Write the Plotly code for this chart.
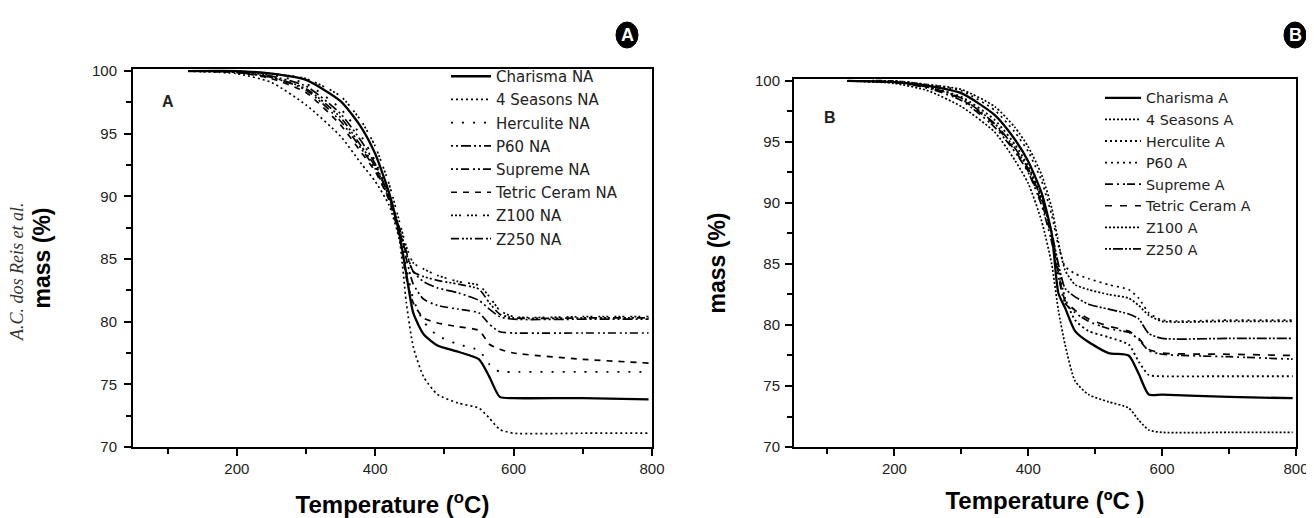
import plotly.graph_objects as go

# ---------------- data ----------------
temp_A = [130, 200, 250, 300, 350, 380, 400, 420, 435, 445, 455, 470, 490, 520, 550, 565, 580, 600, 700, 795]
temp_B = [130, 200, 250, 300, 350, 380, 400, 420, 435, 445, 455, 470, 490, 520, 550, 565, 580, 600, 700, 795]

names_A = ["Charisma NA", "4 Seasons NA", "Herculite NA", "P60 NA", "Supreme NA",
           "Tetric Ceram NA", "Z100 NA", "Z250 NA"]
names_B = ["Charisma A", "4 Seasons A", "Herculite A", "P60 A", "Supreme A",
           "Tetric Ceram A", "Z100 A", "Z250 A"]

charisma_NA = [100, 100, 99.8, 99.3, 97.6, 95.5, 93.4, 90.3, 87.0, 83.8, 80.7, 79.0, 78.1, 77.6, 77.0, 75.6, 74.0, 73.9, 73.9, 73.8]
seasons_NA = [100, 99.8, 99.1, 97.3, 94.8, 92.6, 91.2, 89.3, 86.5, 81.5, 78.0, 75.6, 74.2, 73.5, 73.1, 72.3, 71.4, 71.1, 71.1, 71.1]
herculite_NA = [100, 100, 99.7, 99.0, 97.0, 94.8, 92.8, 90.0, 87.0, 84.3, 81.8, 80.0, 78.9, 78.2, 77.7, 76.6, 76.0, 76.0, 76.0, 76.0]
p60_NA = [100, 100, 99.6, 98.8, 96.6, 94.4, 92.6, 90.0, 87.4, 85.4, 84.0, 83.2, 82.7, 82.3, 81.7, 81.0, 80.4, 80.2, 80.2, 80.2]
supreme_NA = [100, 99.9, 99.5, 98.5, 96.0, 93.8, 92.2, 89.8, 87.2, 85.0, 83.0, 81.8, 81.3, 81.0, 80.7, 79.8, 79.2, 79.1, 79.1, 79.1]
tetric_NA = [100, 99.9, 99.4, 98.3, 95.7, 93.5, 92.0, 89.7, 86.8, 83.5, 81.5, 80.3, 79.9, 79.6, 79.3, 78.2, 77.8, 77.5, 77.0, 76.7]
z100_NA = [100, 100, 99.8, 99.4, 98.0, 96.0, 94.0, 91.0, 88.0, 86.0, 84.7, 84.2, 83.7, 83.2, 82.9, 82.0, 80.9, 80.4, 80.4, 80.4]
z250_NA = [100, 99.9, 99.5, 98.6, 96.3, 94.0, 92.4, 90.0, 87.5, 85.6, 84.0, 83.6, 83.3, 83.0, 82.6, 81.5, 80.6, 80.3, 80.3, 80.3]

charisma_A = [100, 99.9, 99.6, 99.0, 97.2, 95.2, 93.4, 90.8, 87.5, 82.6, 81.4, 79.5, 78.6, 77.7, 77.5, 76.0, 74.3, 74.3, 74.1, 74.0]
seasons_A = [100, 99.8, 99.2, 97.9, 95.8, 93.5, 91.6, 88.5, 85.0, 81.2, 78.4, 75.4, 74.3, 73.7, 73.2, 72.2, 71.4, 71.2, 71.2, 71.2]
herculite_A = [100, 99.9, 99.5, 98.7, 96.8, 94.8, 93.0, 90.4, 87.5, 84.6, 82.2, 80.4, 79.5, 79.0, 78.4, 77.0, 75.9, 75.8, 75.8, 75.8]
p60_A = [100, 100, 99.7, 99.2, 97.6, 95.8, 94.2, 91.8, 89.0, 86.5, 84.8, 84.2, 83.8, 83.3, 82.9, 82.2, 81.0, 80.4, 80.4, 80.4]
supreme_A = [100, 99.9, 99.4, 98.4, 96.2, 94.2, 92.5, 89.8, 86.8, 84.0, 81.8, 81.0, 80.3, 79.7, 79.4, 78.8, 77.9, 77.6, 77.4, 77.2]
tetric_A = [100, 99.9, 99.5, 98.5, 96.4, 94.3, 92.6, 90.0, 87.2, 84.3, 82.0, 81.2, 80.5, 79.9, 79.5, 78.9, 78.0, 77.7, 77.6, 77.5]
z100_A = [100, 100, 99.7, 99.3, 97.9, 96.2, 94.6, 92.3, 89.6, 86.8, 84.5, 83.3, 82.9, 82.5, 82.2, 81.6, 80.8, 80.3, 80.3, 80.3]
z250_A = [100, 99.9, 99.5, 98.6, 96.5, 94.5, 92.8, 90.3, 87.6, 85.0, 83.0, 82.3, 81.7, 81.3, 80.9, 80.5, 79.3, 78.9, 78.9, 78.9]

series_A = [charisma_NA, seasons_NA, herculite_NA, p60_NA, supreme_NA, tetric_NA, z100_NA, z250_NA]
series_B = [charisma_A, seasons_A, herculite_A, p60_A, supreme_A, tetric_A, z100_A, z250_A]

x_ticks = [200, 400, 600, 800]
y_ticks = [70, 75, 80, 85, 90, 95, 100]

# ---------------- styles ----------------
dash_A = ["solid", "2px,3px", "2px,9px", "2px,3px,2px,3px,10px,3px", "2px,3px,2px,3px,8px,4px",
          "6px,6px", "2px,2px,2px,2px,2px,6px", "8px,3px,2px,2px,2px,2px,2px,3px"]
dash_B = ["solid", "2px,2px", "2px,3px", "2px,4px", "8px,4px,2px,4px,2px,2px",
          "7px,8px", "2px,2px", "2px,2px,2px,2px,10px,2px"]
widths = [2.3, 1.7, 1.9, 1.7, 1.7, 1.7, 1.7, 1.7]

# The page body keeps its default 8 px margin, so lay out in page pixels minus 8.
OFF = 8
W, H = 1314 - OFF, 518 - OFF
def px_x(p):
    return (p - OFF) / W
def px_y(p):
    return 1 - (p - OFF) / H

SANS = "Liberation Sans, Arial, sans-serif"
LEG = "DejaVu Sans, Verdana, sans-serif"

fig = go.Figure()
for i, (n, s) in enumerate(zip(names_A, series_A)):
    fig.add_trace(go.Scatter(x=temp_A, y=s, name=n, mode="lines", xaxis="x", yaxis="y",
                             line=dict(color="black", width=widths[i], dash=dash_A[i], shape="spline", smoothing=0.6),
                             legend="legend", legendgroup="a%d" % i))
for i, (n, s) in enumerate(zip(names_B, series_B)):
    fig.add_trace(go.Scatter(x=temp_B, y=s, name=n, mode="lines", xaxis="x2", yaxis="y2",
                             line=dict(color="black", width=widths[i], dash=dash_B[i], shape="spline", smoothing=0.6),
                             legend="legend2", legendgroup="b%d" % i))

tickfont = dict(family=SANS, size=15, color="#222")
axis_common = dict(showgrid=False, zeroline=False, showline=True, linewidth=2, linecolor="black",
                   mirror=True, ticks="outside", ticklen=7, tickwidth=1.5, tickcolor="black",
                   tickfont=tickfont, automargin=False)
xt_font = dict(family=SANS, size=24, color="black", weight="bold")
yt_font = dict(family=SANS, size=23, color="black", weight="bold")

fig.update_layout(
    width=W, height=H, margin=dict(l=0, r=0, t=0, b=0, autoexpand=False),
    paper_bgcolor="white", plot_bgcolor="white",
    xaxis=dict(axis_common, domain=[px_x(133), px_x(652)], range=[50, 800], anchor="y",
               tickvals=x_ticks, minor=dict(dtick=100, tick0=0, ticks="outside", ticklen=5, tickcolor="black"),
               title=dict(text="Temperature (<sup>o</sup>C)", standoff=20, font=xt_font)),
    yaxis=dict(axis_common, domain=[px_y(447), px_y(69)], range=[70, 100.17], anchor="x",
               tickvals=y_ticks, ticklabelstandoff=4,
               minor=dict(dtick=2.5, tick0=70, ticks="outside", ticklen=5, tickcolor="black"),
               title=dict(text="mass (%)", standoff=35, font=yt_font)),
    xaxis2=dict(axis_common, domain=[px_x(794), px_x(1296)], range=[50, 800], anchor="y2",
                tickvals=x_ticks, minor=dict(dtick=100, tick0=0, ticks="outside", ticklen=5, tickcolor="black"),
                title=dict(text="Temperature (ºC )", standoff=16, font=xt_font)),
    yaxis2=dict(axis_common, domain=[px_y(447), px_y(79)], range=[70, 100.16], anchor="x2",
                tickvals=y_ticks, ticklabelstandoff=2,
                minor=dict(dtick=2.5, tick0=70, ticks="outside", ticklen=5, tickcolor="black"),
                title=dict(text="mass (%)", standoff=23, font=yt_font)),
    legend=dict(x=px_x(446), y=px_y(60), xanchor="left", yanchor="top", bgcolor="rgba(0,0,0,0)",
                borderwidth=0, itemwidth=40, tracegroupgap=0.7, traceorder="grouped",
                font=dict(family=LEG, size=15, color="#222")),
    legend2=dict(x=px_x(1100), y=px_y(82), xanchor="left", yanchor="top", bgcolor="rgba(0,0,0,0)",
                 borderwidth=0, itemwidth=36, tracegroupgap=0, traceorder="grouped",
                 font=dict(family=LEG, size=14.3, color="#222")),
    showlegend=True,
)

# badges and panel letters
for cx, letter in [(627, "A"), (1295, "B")]:
    fig.add_shape(type="circle", xref="paper", yref="paper",
                  x0=px_x(cx - 11), x1=px_x(cx + 11), y0=px_y(48), y1=px_y(22),
                  fillcolor="black", line=dict(color="black", width=1))
    fig.add_annotation(xref="paper", yref="paper", x=px_x(cx), y=px_y(35), text="<b>%s</b>" % letter,
                       xanchor="center", yanchor="middle", showarrow=False,
                       font=dict(family=SANS, size=18, color="white"))

fig.add_annotation(xref="paper", yref="paper", x=px_x(168), y=px_y(101), text="<b>A</b>",
                   xanchor="center", yanchor="middle", showarrow=False,
                   font=dict(family=SANS, size=16, color="#222"))
fig.add_annotation(xref="paper", yref="paper", x=px_x(830), y=px_y(117), text="<b>B</b>",
                   xanchor="center", yanchor="middle", showarrow=False,
                   font=dict(family=SANS, size=16, color="#222"))
fig.add_annotation(xref="paper", yref="paper", x=px_x(17), y=px_y(272), text="<i>A.C. dos Reis et al.</i>",
                   xanchor="center", yanchor="middle", textangle=-90, showarrow=False,
                   font=dict(family="Liberation Serif, Times New Roman, serif", size=18, color="#333"))

fig.write_html("out.html")
